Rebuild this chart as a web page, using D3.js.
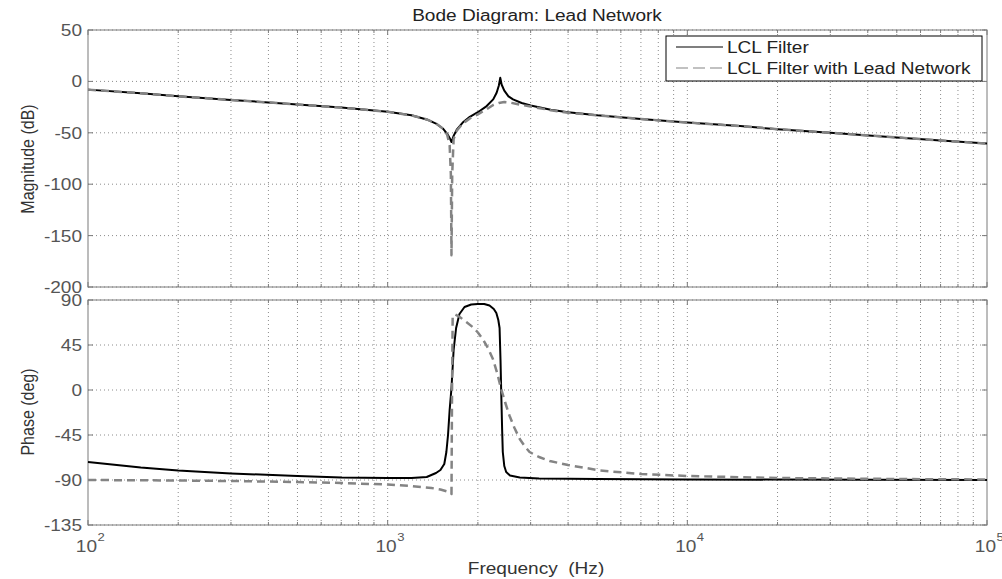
<!DOCTYPE html>
<html>
<head>
<meta charset="utf-8">
<script src="https://cdn.jsdelivr.net/npm/d3@7"></script>
<style>
  body { margin: 0; background: #fff; }
  text { font-family: "Liberation Sans", Arial, sans-serif; }
</style>
</head>
<body>
<div id="chart"></div>
<script>
'use strict';

// magnitude (dB)
const magLclFreq = [100, 150, 200, 300, 400, 500, 700, 1000, 1200, 1350, 1450, 1530, 1580, 1610, 1633, 1660, 1700, 1780, 1880, 2000, 2140, 2250, 2310, 2350, 2375, 2400, 2450, 2530, 2620, 2800, 3000, 3500, 4000, 5000, 7000, 10000, 15000, 20000, 30000, 50000, 70000, 100000];
const magLclDb = [-8, -11.5, -14.5, -18, -20.5, -22.5, -25.5, -29.5, -33, -37, -41, -46, -51, -55, -59, -53, -47, -40, -34.5, -30, -24, -17.5, -11, -4, 3.5, -3, -9, -14.5, -17.5, -21, -23.5, -27.5, -30, -33, -36.5, -40, -43.5, -46.5, -50, -54.5, -57.5, -60.5];

const magLeadFreq = [100, 150, 200, 300, 400, 500, 700, 1000, 1200, 1350, 1450, 1530, 1580, 1610, 1625, 1633, 1642, 1660, 1700, 1780, 1880, 2000, 2140, 2250, 2350, 2450, 2550, 2700, 3000, 3500, 4000, 5000, 7000, 10000, 15000, 20000, 30000, 50000, 70000, 100000];
const magLeadDb = [-8, -11.5, -14.5, -18, -20.5, -22.5, -25.5, -29.5, -33, -37, -41, -46, -52, -62, -90, -169, -90, -56, -48, -41, -36, -32, -27, -23, -21, -20, -20.5, -22, -24.5, -28, -30.5, -33, -36.5, -40, -43.5, -46.5, -50, -54.5, -57.5, -60.5];

// phase (deg)
const phLclFreq = [100, 150, 200, 300, 500, 700, 1000, 1200, 1350, 1450, 1500, 1545, 1570, 1590, 1610, 1633, 1660, 1692, 1736, 1805, 1900, 2000, 2100, 2187, 2260, 2305, 2340, 2363, 2380, 2392, 2410, 2422, 2450, 2486, 2560, 2760, 3200, 5000, 10000, 100000];
const phLclDeg = [-72, -77.5, -80.5, -83.5, -86, -87.5, -88, -88, -87, -83, -80, -74, -62, -45, -20, 2, 40, 62, 76, 83, 85.5, 86, 86, 84.5, 81, 77, 70, 62, 30, 0, -40, -62, -76, -82, -85.5, -87.5, -88.5, -89, -89.5, -90];

const phLeadFreq = [100, 200, 300, 500, 700, 1000, 1200, 1400, 1500, 1580, 1633, 1640, 1648, 1680, 1740, 1830, 1921, 2000, 2077, 2160, 2245, 2320, 2392, 2470, 2553, 2650, 2759, 2870, 2975, 3200, 3475, 4000, 5120, 7000, 10000, 20000, 50000, 100000];
const phLeadDeg = [-90, -90.5, -91, -92, -93, -94.5, -96, -98, -99.5, -101.5, -104, 0, 74, 75.5, 73, 68, 63, 57.5, 51, 42, 31, 17, 1, -13, -26, -38, -49, -56.5, -62, -67, -71, -75, -80.5, -84, -86, -88, -89, -89.5];

const magTicks = [50, 0, -50, -100, -150, -200];
const phaseTicks = [90, 45, 0, -45, -90, -135];
const decadeExps = [2, 3, 4, 5];
const seriesNames = ['LCL Filter', 'LCL Filter with Lead Network'];

const width = 1002;
const height = 579;
const left = 88;
const right = 987;
const sx = 1.19; // text in the picture is stretched sideways

const axisColor = '#7a7a7a';
const labelColor = '#555';
const gridColor = '#8c8c8c';

const x = d3.scaleLog([100, 100000], [left, right]);
const yMag = d3.scaleLinear([-200, 50], [287, 30]);
const yPhase = d3.scaleLinear([-135, 90], [525, 300]);

const svg = d3.select('#chart')
  .append('svg')
  .attr('width', width)
  .attr('height', height)
  .attr('viewBox', [0, 0, width, height]);

const hText = (g, px, py, str, size, anchor, fill) => g.append('text')
  .attr('transform', `translate(${px},${py}) scale(${sx},1)`)
  .attr('text-anchor', anchor)
  .attr('fill', fill)
  .style('font-size', `${size}px`)
  .text(str);

const xTicks = x.ticks();
const isMajor = (d) => Math.abs(Math.log10(d) - Math.round(Math.log10(d))) < 1e-9;

const drawAxes = (y, ticks, name) => {
  const [bottom, top] = y.range();
  const g = svg.append('g').attr('class', name);

  // grid
  g.append('g')
    .selectAll('line')
    .data(xTicks.filter((d) => d > 100 && d < 100000))
    .join('line')
    .attr('x1', (d) => x(d))
    .attr('x2', (d) => x(d))
    .attr('y1', top)
    .attr('y2', bottom)
    .attr('stroke', gridColor)
    .attr('stroke-width', 1)
    .attr('stroke-dasharray', '1,3');

  g.append('g')
    .selectAll('line')
    .data(ticks)
    .join('line')
    .attr('x1', left)
    .attr('x2', right)
    .attr('y1', (d) => y(d))
    .attr('y2', (d) => y(d))
    .attr('stroke', gridColor)
    .attr('stroke-width', 1)
    .attr('stroke-dasharray', '1,3');

  // box
  g.append('rect')
    .attr('x', left)
    .attr('y', top)
    .attr('width', right - left)
    .attr('height', bottom - top)
    .attr('fill', 'none')
    .attr('stroke', axisColor)
    .attr('stroke-width', 1);

  // x ticks, inward on top and bottom
  const tickLen = (d) => (isMajor(d) ? 5 : 3);
  g.append('g')
    .selectAll('path')
    .data(xTicks)
    .join('path')
    .attr('d', (d) => `M${x(d)},${bottom}v${-tickLen(d)}M${x(d)},${top}v${tickLen(d)}`)
    .attr('stroke', axisColor);

  // y ticks, inward on left and right
  g.append('g')
    .selectAll('path')
    .data(ticks)
    .join('path')
    .attr('d', (d) => `M${left},${y(d)}h5M${right},${y(d)}h-5`)
    .attr('stroke', axisColor);

  ticks.forEach((t) => hText(g, left - 6, y(t) + 6, t, 16, 'end', labelColor));
};

drawAxes(yMag, magTicks, 'magnitude');
drawAxes(yPhase, phaseTicks, 'phase');

// decade labels under the phase axes
const xl = svg.append('g');
decadeExps.forEach((e) => {
  const px = x(10 ** e);
  hText(xl, px + 9, 552, '10', 16, 'end', labelColor);
  hText(xl, px + 9.5, 541, e, 11, 'start', labelColor);
});

// titles
hText(svg, 537, 21, 'Bode Diagram: Lead Network', 16, 'middle', '#222');
hText(svg, 536, 574, 'Frequency  (Hz)', 16, 'middle', '#333').style('white-space', 'pre');

const vText = (py, str) => svg.append('text')
  .attr('transform', `translate(34,${py}) rotate(-90) scale(1,${sx})`)
  .attr('text-anchor', 'middle')
  .attr('fill', '#333')
  .style('font-size', '16px')
  .text(str);

vText(159, 'Magnitude (dB)');
vText(412, 'Phase (deg)');

// curves
const drawSeries = (y, freqs, vals, color, w, dash) => {
  const pts = freqs.map((f, i) => [f, vals[i]]);
  svg.append('path')
    .datum(pts)
    .attr('d', d3.line((d) => x(d[0]), (d) => y(d[1])))
    .attr('fill', 'none')
    .attr('stroke', color)
    .attr('stroke-width', w)
    .attr('stroke-linejoin', 'round')
    .attr('stroke-dasharray', dash);
};

drawSeries(yMag, magLclFreq, magLclDb, '#000', 2, null);
drawSeries(yMag, magLeadFreq, magLeadDb, '#848484', 2.5, '8,5');
drawSeries(yPhase, phLclFreq, phLclDeg, '#000', 2, null);
drawSeries(yPhase, phLeadFreq, phLeadDeg, '#848484', 2.5, '8,5');

// legend
const legend = svg.append('g');
legend.append('rect')
  .attr('x', 666)
  .attr('y', 36)
  .attr('width', 316)
  .attr('height', 45)
  .attr('fill', '#fff')
  .attr('stroke', '#000')
  .attr('stroke-width', 1);

const legendStyles = [
  { color: '#000', w: 1.2, dash: null },
  { color: '#848484', w: 1.2, dash: '12,5' },
];

seriesNames.forEach((n, i) => {
  const ly = 47 + i * 21;
  legend.append('line')
    .attr('x1', 676)
    .attr('x2', 723)
    .attr('y1', ly)
    .attr('y2', ly)
    .attr('stroke', legendStyles[i].color)
    .attr('stroke-width', legendStyles[i].w)
    .attr('stroke-dasharray', legendStyles[i].dash);
  hText(legend, 727, ly + 6, n, 16, 'start', '#222');
});
</script>
</body>
</html>
